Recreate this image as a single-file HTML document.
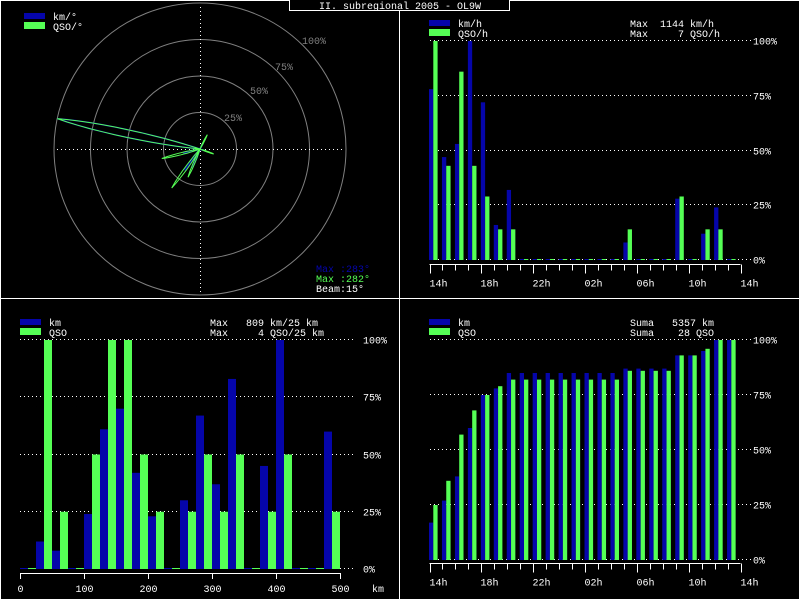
<!DOCTYPE html>
<html><head><meta charset="utf-8">
<style>
html,body{margin:0;padding:0;background:#000;}
svg{display:block;font-family:"Liberation Mono","DejaVu Sans Mono",monospace;font-size:10px;}
</style></head>
<body>
<svg id="c" width="800" height="600" viewBox="0 0 800 600">
<rect x="0.5" y="0.5" width="799" height="599" fill="#000" stroke="#fff"/>
<line x1="399.5" y1="0" x2="399.5" y2="600" stroke="#fff"/>
<line x1="0" y1="298.5" x2="800" y2="298.5" stroke="#fff"/>
<rect x="289.5" y="-1" width="220" height="11.5" fill="#000" stroke="#fff"/>
<text x="400" y="9" fill="#fff" text-anchor="middle">II. subregional 2005 - OL9W</text>
</svg>
<script>
// ---- data ----
const hourLabels = ["14h","18h","22h","02h","06h","10h","14h"];
const hourKm  = [78,47,53,100,72,16,32,0,0,0,0,0,0,0,0,8,0,0,0,28,0,12,24,0];
const hourQso = [100,43,86,43,29,14,14,0,0,0,0,0,0,0,0,14,0,0,0,29,0,14,14,0];
const cumKm  = [17,27,38,60,75,78,85,85,85,85,85,85,85,85,85,87,87,87,87,93,93,95,100,100];
const cumQso = [25,36,57,68,75,79,82,82,82,82,82,82,82,82,82,86,86,86,86,93,93,96,100,100];
const distKm  = [0,12,8,0,24,61,70,42,23,0,30,67,37,83,0,45,100,0,0,60];
const distQso = [0,100,25,0,50,100,100,50,25,0,25,50,25,50,0,25,50,0,0,25];
const distLabels = ["0","100","200","300","400","500"];
const pctLabels = ["0%","25%","50%","75%","100%"];
const lobeBearings = [282,216,203,256,27,110];
const lobeKm  = [100,18,14,12,5,4];
const lobeQso = [100,33,21,27,11,10];

const svg=document.getElementById('c');
const NS='http://www.w3.org/2000/svg';
const BLUE='#0505aa', GREEN='#55ff55';
function mk(tag,attrs,txt){const e=document.createElementNS(NS,tag);for(const k in attrs)e.setAttribute(k,attrs[k]);if(txt!==undefined)e.textContent=txt;svg.appendChild(e);return e;}

function legend(x,y,l1,l2,r1,r2,rx,prefix){
  let e=mk('rect',{x:x,y:y,width:21,height:6,fill:BLUE});
  
  
  e=mk('rect',{x:x,y:y+9,width:21,height:7,fill:GREEN});
  
  
  e=mk('text',{x:x+29,y:y+7,fill:'#fff'},l1);
  
  
  e=mk('text',{x:x+29,y:y+17,fill:'#fff'},l2);
  
  
  if(r1){
    e=mk('text',{x:rx,y:y+7,fill:'#fff','xml:space':'preserve'},r1);
    e.setAttribute('style','white-space:pre');
    
    
    e=mk('text',{x:rx,y:y+17,fill:'#fff'},r2);
    e.setAttribute('style','white-space:pre');
    
    
  }
}
function grid(prefix,x0,x1,y0,y100,lx){
  for(let i=0;i<5;i++){
    const y=Math.round(y0-(y0-y100)*i/4)+0.5;
    let e=mk('line',{x1:x0,y1:y,x2:x1,y2:y,stroke:'#fff','stroke-dasharray':'1 3'});
    
    
    e=mk('text',{x:lx,y:y+4,fill:'#fff'},pctLabels[i]);
    
    
  }
}
function bars(prefix,arrA,arrB,x0,step,bw,y0,y100){
  const sc=v=>(y0-y100)*v/100;
  for(let i=0;i<arrA.length;i++){
    const h1=Math.max(1,sc(arrA[i])), h2=Math.max(1,sc(arrB[i]));
    let e=mk('rect',{x:x0+i*step,y:y0+1-h1,width:bw,height:h1,fill:BLUE});
    
    
    e=mk('rect',{x:x0+i*step+bw,y:y0+1-h2,width:bw,height:h2,fill:GREEN});
    
    
  }
}
function hourAxis(prefix,yAx){
  const x0=429.5, st=311/24;
  let e=mk('line',{x1:x0,y1:yAx,x2:x0+311,y2:yAx,stroke:'#fff'});
  
  
  for(let i=0;i<=24;i++){
    const x=Math.round(x0+i*st)+0.5;
    e=mk('line',{x1:x,y1:yAx,x2:x,y2:yAx+(i%4===0?9:6),stroke:'#fff'});
    
    
    if(i%4===0){
      e=mk('text',{x:x-1,y:yAx+22,fill:'#fff'},hourLabels[i/4]);
      
      
    }
  }
}

// ---- top-right: hourly ----
legend(429,20,'km/h','QSO/h','Max  1144 km/h','Max     7 QSO/h',630,'hourly');
grid('hourly',430,752,259,40,753);
bars('hourly',hourKm,hourQso,429,311/24,4.3,259,40);
hourAxis('hourly',264.5);

// ---- bottom-right: cumulative ----
legend(429,319,'km','QSO','Suma   5357 km','Suma    28 QSO',630,'cumulative');
grid('cumulative',430,752,559,339,753);
bars('cumulative',cumKm,cumQso,429,311/24,4.3,559,339);
hourAxis('cumulative',563.5);

// ---- bottom-left: distance ----
legend(20,319,'km','QSO','Max   809 km/25 km','Max     4 QSO/25 km',210,'distance');
grid('distance',20,353,568,339,363);
bars('distance',distKm,distQso,20,16,8,568,339);
(function(){
  let e=mk('line',{x1:20.5,y1:573.5,x2:340.5,y2:573.5,stroke:'#fff'});
  
  
  for(let i=0;i<distLabels.length;i++){
    const x=Math.round(20+i*64)+0.5;
    e=mk('line',{x1:x,y1:573,x2:x,y2:579,stroke:'#fff'});
    
    
    e=mk('text',{x:x,y:592,fill:'#fff','text-anchor':'middle'},distLabels[i]);
    
    
  }
  e=mk('text',{x:372,y:592,fill:'#fff'},'km');
  
  
})();

// ---- top-left: polar ----
(function(){
  const cx=200, cy=149, R=146;
  const ringLbl=[[224,121,'25%'],[250,94,'50%'],[275,70,'75%'],[302,44,'100%']];
  for(let i=1;i<=4;i++){
    let e=mk('circle',{cx:cx,cy:cy,r:R*i/4,fill:'none',stroke:'#808080'});
    
    
    e=mk('text',{x:ringLbl[i-1][0],y:ringLbl[i-1][1],fill:'#808080'},ringLbl[i-1][2]);
    
    
  }
  let e=mk('line',{x1:57,y1:cy+0.5,x2:343,y2:cy+0.5,stroke:'#fff','stroke-dasharray':'1 3'});
  
  
  e=mk('line',{x1:cx+0.5,y1:7,x2:cx+0.5,y2:293,stroke:'#fff','stroke-dasharray':'1 3'});
  
  
  const hw=7.5;
  function curve(vals){
    let pts=[];
    for(let a=0;a<360;a+=0.5){
      let r=0;
      for(let i=0;i<lobeBearings.length;i++){
        let d=Math.abs(((a-lobeBearings[i])%360+540)%360-180);
        if(d<hw){const t=d/hw;r=Math.max(r,vals[i]*(1-t)*(1-t)*(1+t));}
      }
      const rr=R*r/100, th=a*Math.PI/180;
      pts.push((cx+rr*Math.sin(th)).toFixed(1)+','+(cy-rr*Math.cos(th)).toFixed(1));
    }
    return pts.join(' ');
  }
  e=mk('polygon',{points:curve(lobeKm),fill:'none',stroke:BLUE,'stroke-width':1.5});
  
  
  e=mk('polygon',{points:curve(lobeQso),fill:'none',stroke:GREEN,'stroke-width':1});
  
  
  legend(24,13,'km/°','QSO/°',null,null,0,'polar');
  e=mk('text',{x:316,y:272,fill:BLUE},'Max :283°');
  
  
  e=mk('text',{x:316,y:282,fill:GREEN},'Max :282°');
  
  
  e=mk('text',{x:316,y:292,fill:'#fff'},'Beam:15°');
  
  
})();
</script>
</body></html>
